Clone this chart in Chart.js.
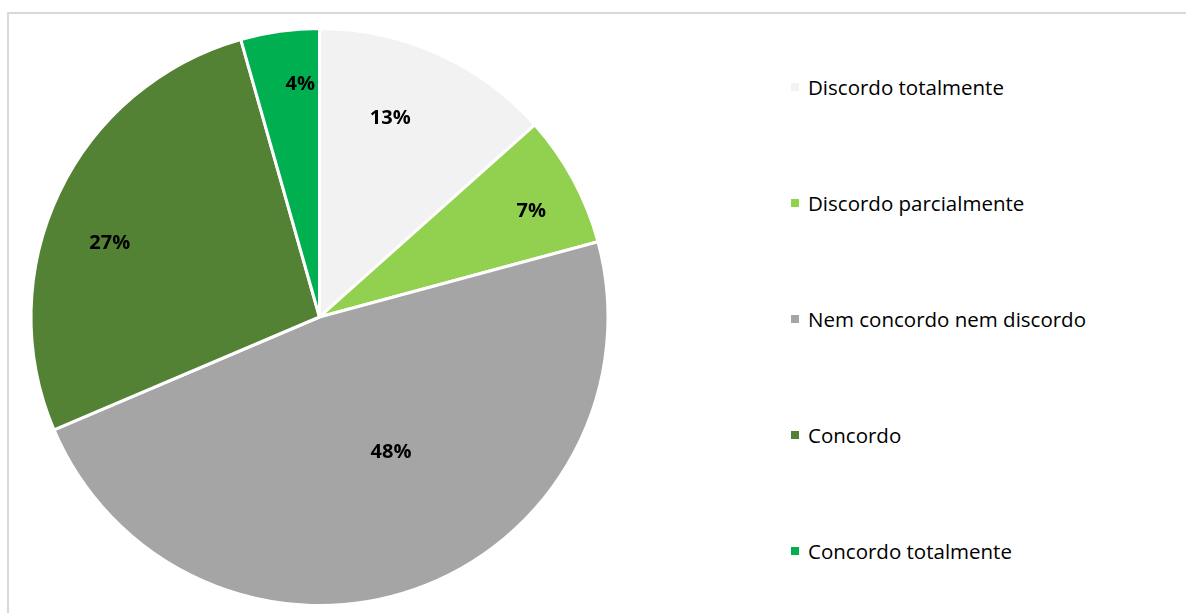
<!DOCTYPE html>
<html>
<head>
<meta charset="utf-8">
<script src="https://cdn.jsdelivr.net/npm/chart.js@4/dist/chart.umd.min.js"></script>
<style>
  html, body { margin: 0; padding: 0; background: #fff; }
  body { width: 1186px; height: 613px; position: relative; overflow: hidden; }
  .frame { position: absolute; left: 7px; top: 12px; width: 1300px; height: 700px;
           border-left: 2px solid #d9d9d9; border-top: 2px solid #d9d9d9; box-sizing: border-box; }
  .pie-wrap { position: absolute; left: 0; top: 0; width: 639px; height: 613px; }
  #legend { position: absolute; left: 791px; top: 29px; margin: 0; padding: 0; list-style: none;
            font-family: "Open Sans", Lato, sans-serif; font-size: 20.5px; color: #000; }
  #legend li { height: 116px; display: flex; align-items: center; white-space: nowrap; }
  #legend .box { width: 8px; height: 8px; margin-right: 9px; display: inline-block; }
</style>
</head>
<body>
<div class="frame"></div>
<div class="pie-wrap"><canvas id="pieChart" width="639" height="613"></canvas></div>
<ul id="legend"></ul>
<script>
const answerLabels = ['Discordo totalmente', 'Discordo parcialmente', 'Nem concordo nem discordo', 'Concordo', 'Concordo totalmente'];
const answerShares = [13.4, 7.4, 47.8, 27.0, 4.4];
const sliceColors = ['#f2f2f2', '#92d050', '#a5a5a5', '#548235', '#00b050'];

// where each % label sits: fraction of radius and small angle shift (deg), like Excel's best fit
const labelRadius = [0.73, 0.82, 0.53, 0.77, 0.81];
const labelShift = [-4.5, 2, -8.8, -6.3, 3.2];

const pctLabels = {
    id: 'pctLabels',
    afterDatasetsDraw(chart) {
        const ctx = chart.ctx;
        const meta = chart.getDatasetMeta(0);
        const data = chart.data.datasets[0].data;
        const total = data.reduce((a, b) => a + b, 0);
        ctx.save();
        ctx.font = 'bold 20px "Open Sans", Lato, sans-serif';
        ctx.fillStyle = '#000';
        ctx.textAlign = 'center';
        ctx.textBaseline = 'middle';
        meta.data.forEach((arc, i) => {
            const p = arc.getProps(['x', 'y', 'startAngle', 'endAngle', 'outerRadius'], true);
            const mid = (p.startAngle + p.endAngle) / 2 + labelShift[i] * Math.PI / 180;
            const r = p.outerRadius * labelRadius[i];
            ctx.fillText(Math.round(data[i] / total * 100) + '%', p.x + Math.cos(mid) * r, p.y + Math.sin(mid) * r);
        });
        ctx.restore();
    }
};

const htmlLegend = {
    id: 'htmlLegend',
    afterUpdate(chart) {
        const ul = document.getElementById('legend');
        ul.innerHTML = '';
        chart.data.labels.forEach((lbl, i) => {
            const li = document.createElement('li');
            const box = document.createElement('span');
            box.className = 'box';
            box.style.background = chart.data.datasets[0].backgroundColor[i];
            li.appendChild(box);
            li.appendChild(document.createTextNode(lbl));
            ul.appendChild(li);
        });
    }
};

const pc = document.getElementById('pieChart');

new Chart(pc, {
    type: 'pie',
    data: {
        labels: answerLabels,
        datasets: [{
            data: answerShares,
            backgroundColor: sliceColors,
            borderColor: '#ffffff',
            borderWidth: 3,
        }],
    },
    options: {
        responsive: false,
        animation: false,
        layout: { padding: { top: 27, bottom: 6 } },
        plugins: {
            legend: { display: false },
            tooltip: { enabled: false },
        },
    },
    plugins: [pctLabels, htmlLegend],
});
</script>
</body>
</html>
